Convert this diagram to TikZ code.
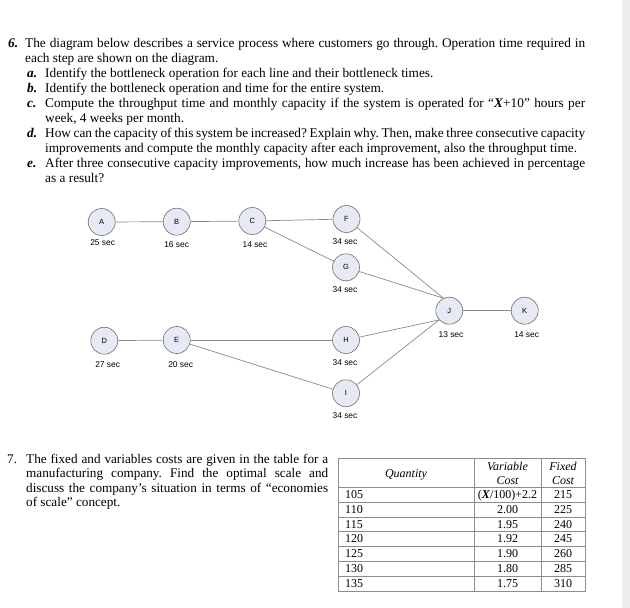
\documentclass[tikz,border=0pt]{standalone}
\usepackage{fontspec}
\setmainfont{Liberation Serif}
\newfontfamily\diagfont{Liberation Sans}
\definecolor{nodefill}{HTML}{E7EAF5}
\definecolor{nodeline}{HTML}{6E6E6E}
\definecolor{edgecol}{HTML}{8A8A8A}
\definecolor{tabline}{HTML}{8C8C8C}
\definecolor{band}{HTML}{EEEEEE}
\frenchspacing
\begin{document}
\begin{tikzpicture}[x=1pt,y=-1pt,
  stn/.style={circle,draw=nodeline,fill=nodefill,line width=0.6pt,minimum size=27pt,inner sep=0pt,font=\diagfont\fontsize{7.5}{8}\selectfont},
  lbl/.style={font=\diagfont\fontsize{8.4}{10}\selectfont,inner sep=0pt},
  edge/.style={draw=edgecol,line width=0.7pt},
  para/.style={anchor=base west,inner sep=0pt,align=justify,font=\frenchspacing\fontsize{13.3}{15.1}\selectfont},
  num/.style={anchor=base west,inner sep=0pt,font=\bfseries\itshape\fontsize{13.3}{15.1}\selectfont},
  cell/.style={inner sep=0pt,anchor=base,font=\fontsize{12}{14}\selectfont},
  hdr/.style={inner sep=0pt,anchor=base,font=\itshape\fontsize{12}{14}\selectfont},
  rule/.style={draw=tabline,line width=0.8pt}]
\useasboundingbox (0,0) rectangle (630,608);
\fill[white] (0,0) rectangle (630,608);
\fill[band] (622,0) rectangle (630,608);

% ---------- Question 6 ----------
\node[num] (q6) at (8,47) {6.};
\node[para,text width=560pt] (p6) at (25,47) {The diagram below describes a service process where customers go through. Operation time required in\linebreak each step are shown on the diagram.};
\node[num] (la) at (27,77.2) {a.};
\node[para,text width=540pt] (ta) at (45,77.2) {Identify the bottleneck operation for each line and their bottleneck times.};
\node[num] (lb) at (27,92.3) {b.};
\node[para,text width=540pt] (tb) at (45,92.3) {Identify the bottleneck operation and time for the entire system.};
\node[num] (lc) at (27,107.4) {c.};
\node[para,text width=540pt] (tc) at (45,107.4) {Compute the throughput time and monthly capacity if the system is operated for “\textbf{\textit{X}}+10” hours per\linebreak week, 4 weeks per month.};
\node[num] (ld) at (27,137.6) {d.};
\node[para,text width=540pt] (td) at (45,137.6) {How can the capacity of this system be increased? Explain why. Then, make three consecutive capacity\linebreak improvements and compute the monthly capacity after each improvement, also the throughput time.};
\node[num] (le) at (27,167.8) {e.};
\node[para,text width=540pt] (te) at (45,167.8) {After three consecutive capacity improvements, how much increase has been achieved in percentage\linebreak as a result?};

% ---------- Process diagram ----------
\node[stn] (A) at (101.7,222) {A};
\node[stn] (B) at (176.7,221.7) {B};
\node[stn] (C) at (252.3,221) {C};
\node[stn] (F) at (346.5,219) {F};
\node[stn] (G) at (346,267.3) {G};
\node[stn] (D) at (104.3,340.7) {D};
\node[stn] (E) at (176.7,340) {E};
\node[stn] (H) at (346,340) {H};
\node[stn] (I) at (346,393.3) {I};
\node[stn] (J) at (449.3,310.7) {J};
\node[stn] (K) at (524.7,310.7) {K};

\node[lbl] (tA) at (102.7,242.5) {25 sec};
\node[lbl] (tB) at (176.7,244.3) {16 sec};
\node[lbl] (tC) at (255,244.3) {14 sec};
\node[lbl] (tF) at (345,241.7) {34 sec};
\node[lbl] (tG) at (345,290) {34 sec};
\node[lbl] (tD) at (107.7,365) {27 sec};
\node[lbl] (tE) at (180.7,365) {20 sec};
\node[lbl] (tH) at (345,362.7) {34 sec};
\node[lbl] (tI) at (345,416) {34 sec};
\node[lbl] (tJ) at (451,334.3) {13 sec};
\node[lbl] (tK) at (526.7,334.3) {14 sec};

\draw[edge] (A) -- (B);
\draw[edge] (B) -- (C);
\draw[edge] (C) -- (F);
\draw[edge] (C) -- (G);
\draw[edge] (F) -- (J.115);
\draw[edge] (G) -- (J.115);
\draw[edge] (D) -- (E);
\draw[edge] (E) -- (H);
\draw[edge] (E) -- (I);
\draw[edge] (H) -- (J.222);
\draw[edge] (I) -- (J.222);
\draw[edge] (J) -- (K);

% ---------- Question 7 ----------
\node[anchor=base west,inner sep=0pt,font=\fontsize{13.2}{14.3}\selectfont] (q7) at (7,463.4) {7.};
\node[para,text width=302pt,font=\frenchspacing\fontsize{13.2}{14.3}\selectfont] (p7) at (26,463.4) {The fixed and variables costs are given in the table for a\linebreak manufacturing company. Find the optimal scale and\linebreak discuss the company’s situation in terms of “economies\linebreak of scale” concept.};

% ---------- Table ----------
\draw[rule] (338.3,458.3) rectangle (585,591);
\draw[rule] (474,458.3) -- (474,591);
\draw[rule] (541,458.3) -- (541,591);
\foreach \k in {0,...,6}
  \draw[rule] (338.3,{487.3+14.81*\k}) -- (585,{487.3+14.81*\k});

\node[hdr] (hq) at (406,477) {Quantity};
\node[hdr] (hv1) at (507.5,470.7) {Variable};
\node[hdr] (hv2) at (507.5,484) {Cost};
\node[hdr] (hf1) at (563,470.7) {Fixed};
\node[hdr] (hf2) at (563,484) {Cost};

\node[cell,anchor=base west] (q0) at (345,498.5) {105};
\node[cell] (v0) at (507.5,498.5) {(\textbf{\textit{X}}/100)+2.2};
\node[cell] (f0) at (563,498.5) {215};
\foreach \q/\v/\f [count=\i] in {110/2.00/225,115/1.95/240,120/1.92/245,125/1.90/260,130/1.80/285,135/1.75/310}{
  \node[cell,anchor=base west] (q\i) at (345,{498.5+14.81*\i}) {\q};
  \node[cell] (v\i) at (507.5,{498.5+14.81*\i}) {\v};
  \node[cell] (f\i) at (563,{498.5+14.81*\i}) {\f};
}
\end{tikzpicture}
\end{document}
